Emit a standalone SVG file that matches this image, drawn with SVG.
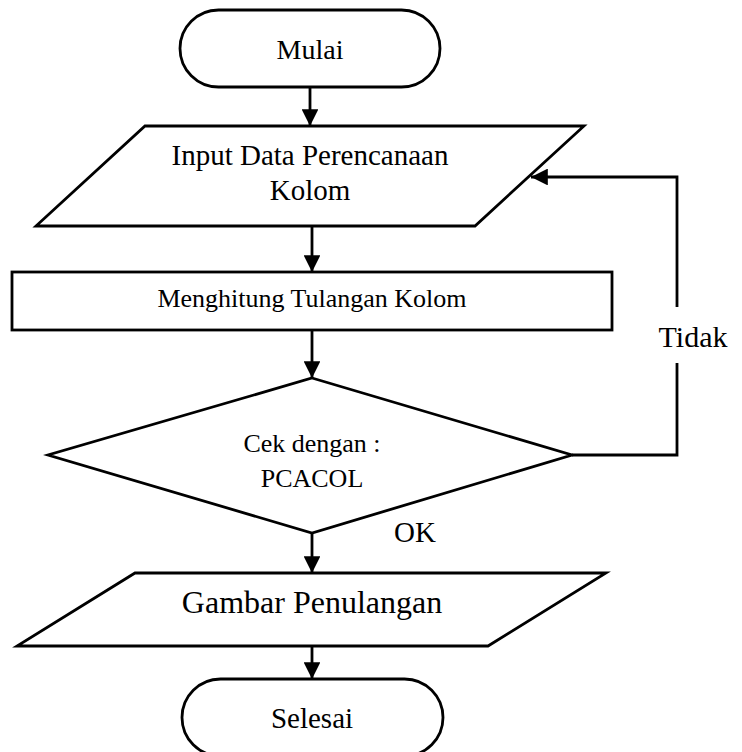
<svg xmlns="http://www.w3.org/2000/svg" width="742" height="752" viewBox="0 0 742 752">
  <style>
    .shape { fill: #ffffff; stroke: #000000; stroke-width: 2.8; stroke-linejoin: miter; }
    .wire { fill: none; stroke: #000000; stroke-width: 2.8; }
    .lbl { font-family: "Liberation Serif", "Times New Roman", serif; fill: #000000; text-anchor: middle; }
  </style>
  <defs>
    <marker id="head" markerWidth="6" markerHeight="6" refX="6" refY="3" orient="auto" markerUnits="strokeWidth">
      <path d="M0,0 L6,3 L0,6 Z" fill="#000000"/>
    </marker>
  </defs>
  <rect width="742" height="752" fill="#ffffff"/>

  <!-- connectors -->
  <g id="connectors">
    <line class="wire" x1="310" y1="87" x2="310" y2="126" marker-end="url(#head)"/>
    <line class="wire" x1="312" y1="226" x2="312" y2="272" marker-end="url(#head)"/>
    <line class="wire" x1="312" y1="330" x2="312" y2="378" marker-end="url(#head)"/>
    <line class="wire" x1="312" y1="533" x2="312" y2="573" marker-end="url(#head)"/>
    <line class="wire" x1="312" y1="646" x2="312" y2="679" marker-end="url(#head)"/>
    <!-- "Tidak" loop back to the input step -->
    <polyline class="wire" points="572,455 677,455 677,363"/>
    <polyline class="wire" points="677,307 677,177 531,177" marker-end="url(#head)"/>
  </g>

  <g id="start">
    <rect class="shape" x="180" y="10" width="260" height="77" rx="38.5" ry="38.5"/>
    <text class="lbl" x="310" y="59" font-size="28">Mulai</text>
  </g>

  <g id="input-data">
    <polygon class="shape" points="145,126 584,126 475,226 36,226"/>
    <text class="lbl" x="310" y="165" font-size="29">Input Data Perencanaan</text>
    <text class="lbl" x="310" y="200" font-size="29">Kolom</text>
  </g>

  <g id="compute">
    <rect class="shape" x="12" y="272" width="600" height="58"/>
    <text class="lbl" x="312" y="307" font-size="26">Menghitung Tulangan Kolom</text>
  </g>

  <g id="check">
    <polygon class="shape" points="312,378 572,455 312,533 48,455"/>
    <text class="lbl" x="312" y="452" font-size="26">Cek dengan :</text>
    <text class="lbl" x="312" y="487" font-size="26">PCACOL</text>
  </g>

  <g id="label-no">
    <text class="lbl" x="693" y="347" font-size="30">Tidak</text>
  </g>

  <g id="label-ok">
    <text class="lbl" x="415" y="542" font-size="29">OK</text>
  </g>

  <g id="output-drawing">
    <polygon class="shape" points="135,573 606,573 488,646 17,646"/>
    <text class="lbl" x="312" y="613" font-size="32">Gambar Penulangan</text>
  </g>

  <g id="end">
    <rect class="shape" x="182" y="679" width="261" height="77" rx="38.5" ry="38.5"/>
    <text class="lbl" x="312" y="728" font-size="29">Selesai</text>
  </g>
</svg>
